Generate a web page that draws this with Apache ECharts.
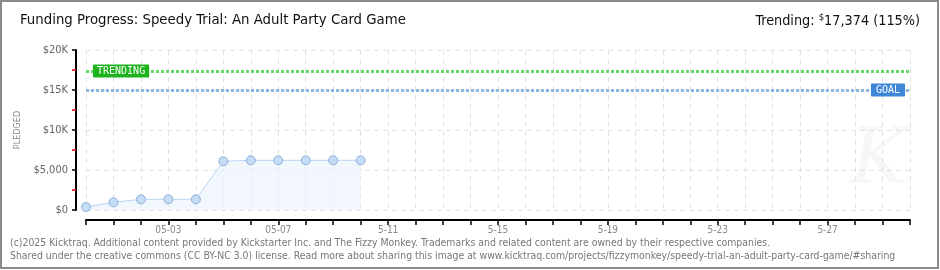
<!DOCTYPE html>
<html><head><meta charset="utf-8">
<script src="https://cdn.jsdelivr.net/npm/echarts@6/dist/echarts.min.js"></script>
<style>html,body{margin:0;padding:0;background:#fff}#c{width:940px;height:270px}</style>
</head><body><div id="c"></div>
<script>
// ---- data ----
const categories = ['04-30','05-01','05-02','05-03','05-04','05-05','05-06','05-07','05-08','05-09','05-10','05-11','05-12','05-13','05-14','05-15','05-16','05-17','05-18','05-19','05-20','05-21','05-22','05-23','05-24','05-25','05-26','05-27','05-28','05-29','05-30'];
const pledged = [375, 960, 1340, 1340, 1340, 6090, 6210, 6210, 6210, 6210, 6210];
const tickLabels = {'05-03':'05-03','05-07':'05-07','05-11':'5-11','05-15':'5-15','05-19':'5-19','05-23':'5-23','05-27':'5-27'};
const yTickLabels = {0:'$0',5000:'$5,000',10000:'$10K',15000:'$15K',20000:'$20K'};
const trending = 17374;
const goal = 15000;
const titleText = 'Funding Progress: Speedy Trial: An Adult Party Card Game';
const footer1 = '(c)2025 Kicktraq. Additional content provided by Kickstarter Inc. and The Fizzy Monkey. Trademarks and related content are owned by their respective companies.';
const footer2 = 'Shared under the creative commons (CC BY-NC 3.0) license. Read more about sharing this image at www.kicktraq.com/projects/fizzymonkey/speedy-trial-an-adult-party-card-game/#sharing';

const chart = echarts.init(document.getElementById('c'), null, {renderer:'canvas'});
const axisFont = '"DejaVu Sans Condensed", "DejaVu Sans", sans-serif';
const boxFont = '"DejaVu Sans Mono", monospace';
chart.setOption({
  animation:false,
  backgroundColor:'#fff',
  grid:{left:86, right:30, top:50, bottom:60},
  xAxis:{
    type:'category', data:categories, boundaryGap:false, offset:10,
    axisLine:{show:true, onZero:false, lineStyle:{color:'#000', width:2}},
    axisTick:{show:true, interval:0, length:5, lineStyle:{color:'#000', width:1.5}},
    axisLabel:{interval:(i,v)=>!!tickLabels[v], formatter:v=>tickLabels[v]||'', color:'#888', fontSize:10, margin:5, fontFamily:axisFont},
    splitLine:{show:true, interval:0, lineStyle:{color:'#e2e2e2', type:[5,4]}}
  },
  yAxis:{
    type:'value', min:0, max:20000, interval:5000, offset:10,
    name:'PLEDGED', nameLocation:'middle', nameGap:53, nameRotate:90,
    nameTextStyle:{color:'#888', fontSize:9, fontFamily:axisFont},
    axisLine:{show:true, lineStyle:{color:'#000', width:2}},
    axisTick:{show:true, length:4, lineStyle:{color:'#000', width:1.5}},
    minorTick:{show:true, splitNumber:2, length:4, lineStyle:{color:'#e00', width:1.5}},
    axisLabel:{formatter:v=>yTickLabels[v]!==undefined?yTickLabels[v]:'', color:'#666', fontSize:11, margin:8, fontFamily:axisFont},
    splitLine:{show:true, lineStyle:{color:'#e2e2e2', type:[5,4]}}
  },
  series:[{
    type:'line', data:pledged, symbol:'circle', symbolSize:9,
    itemStyle:{color:'#c4dcf6', borderColor:'#8fb0d8', borderWidth:1},
    lineStyle:{color:'#b9d5f3', width:1},
    areaStyle:{color:'#edf4fc'},
    markLine:{
      silent:true, symbol:'none',
      data:[
        {yAxis:trending, lineStyle:{color:'#67d867', width:3, type:[3,2]},
          label:{show:true, position:'insideStart', distance:7, formatter:'TRENDING', color:'#fff', backgroundColor:'#1db31d', padding:[2,4,1,4], borderRadius:1, fontSize:10, fontFamily:boxFont}},
        {yAxis:goal, lineStyle:{color:'#90b5e0', width:3, type:[3,2]},
          label:{show:true, position:'insideEnd', distance:5, formatter:'GOAL', color:'#fff', backgroundColor:'#3f88d8', padding:[2,5,1,5], borderRadius:1, fontSize:10, fontFamily:boxFont}}
      ]
    }
  }],
  graphic:[
    {type:'rect', shape:{x:1, y:1, width:937, height:267}, style:{fill:'none', stroke:'#8a8a8a', lineWidth:2}, silent:true},
    {type:'text', left:20, top:13, style:{text:titleText, fill:'#111', font:'14.8px "DejaVu Sans Condensed", sans-serif'}},
    {type:'text', right:20, top:13, style:{rich:{a:{fill:'#111', font:'14.3px "DejaVu Sans Condensed", sans-serif'}, s:{fill:'#111', font:'9.5px "DejaVu Sans Condensed", sans-serif', verticalAlign:'top', padding:[0,0,6,0]}}, text:'{a|Trending: }{s|$}{a|17,374 (115%)}'}},
    {type:'text', left:850, top:124, z:-1, style:{text:'K', fill:'#f7f7f7', font:'italic 78px "DejaVu Serif", serif'}},
    {type:'text', left:10, top:238, style:{text:footer1, fill:'#777', font:'10.4px "DejaVu Sans Condensed", sans-serif'}},
    {type:'text', left:10, top:251, style:{text:footer2, fill:'#777', font:'10.4px "DejaVu Sans Condensed", sans-serif'}}
  ]
});
</script></body></html>
